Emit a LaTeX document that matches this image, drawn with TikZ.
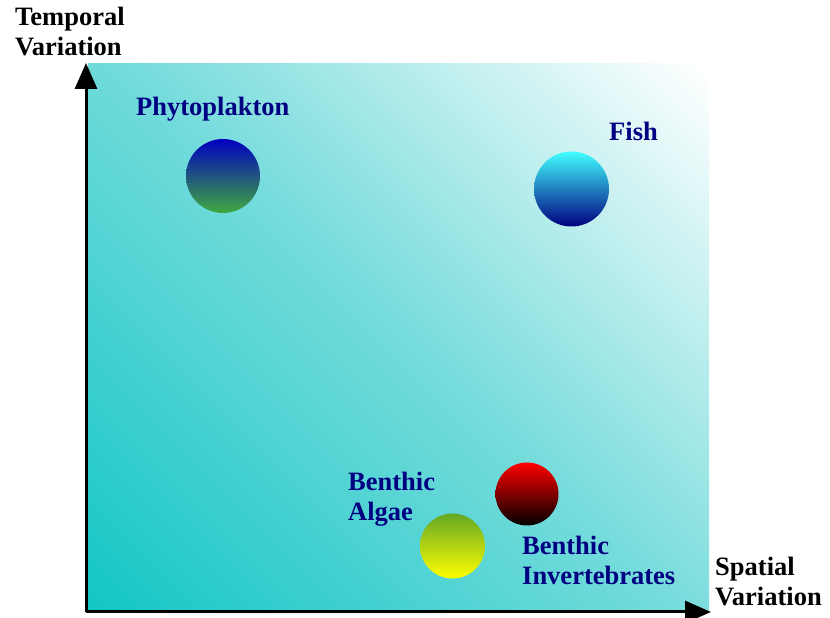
\documentclass[tikz,border=0pt]{standalone}
\usepackage{fontspec}
\setmainfont{Liberation Serif}
\usetikzlibrary{positioning,arrows.meta}
\definecolor{labelblue}{HTML}{000080}
\definecolor{seateal}{HTML}{14C6C6}
\definecolor{seamid}{HTML}{74DBDB}
\definecolor{algaetop}{HTML}{64A823}
\pgfdeclareverticalshading{backdrop}{100bp}{color(0bp)=(seateal); color(15bp)=(seateal); color(50bp)=(seamid); color(85bp)=(white); color(100bp)=(white)}

\begin{document}
\begin{tikzpicture}[x=1pt, y=1pt,
  ball/.style={circle, inner sep=0pt},
  species/.style={text=labelblue, font=\fontsize{26.5}{30}\selectfont\bfseries, align=left, anchor=west, inner sep=0pt},
  axislabel/.style={font=\fontsize{26.5}{30}\selectfont\bfseries, align=left, anchor=west, inner sep=0pt},
  axis/.style={line width=3pt, -{Triangle[length=26pt, width=22pt]}}]
  \useasboundingbox (0,0) rectangle (830,618);
  % backdrop
  \shade[shading=backdrop, shading angle=-45] (88,6) rectangle (709,554);
  % axes
  \coordinate (origin) at (86,6);
  \coordinate (ytip) at (86,555);
  \coordinate (xtip) at (711,6);
  \draw[axis] (origin) -- (ytip);
  \draw[axis] (origin) -- (xtip);
  \node[axislabel] (ylabel) at (15,586) {Temporal\\Variation};
  \node[axislabel] (xlabel) at (715,36) {Spatial\\Variation};
  % species
  \node[ball, minimum size=74pt, top color=blue!75!black, bottom color=green!55!black!75] (phyto) at (223,442) {};
  \node[ball, minimum size=75pt, top color=cyan!75, bottom color=blue!50!black] (fish) at (571.5,429) {};
  \node[ball, minimum size=63pt, top color=red, bottom color=black] (invert) at (527,124) {};
  \node[ball, minimum size=65pt, top color=algaetop, bottom color=yellow] (algae) at (452.5,72) {};
  \node[species] (phytolabel) at (136,509) {Phytoplakton};
  \node[species] (fishlabel) at (609,487) {Fish};
  \node[species] (algaelabel) at (348,119) {Benthic\\Algae};
  \node[species] (invertlabel) at (522,58) {Benthic\\Invertebrates};
\end{tikzpicture}
\end{document}
